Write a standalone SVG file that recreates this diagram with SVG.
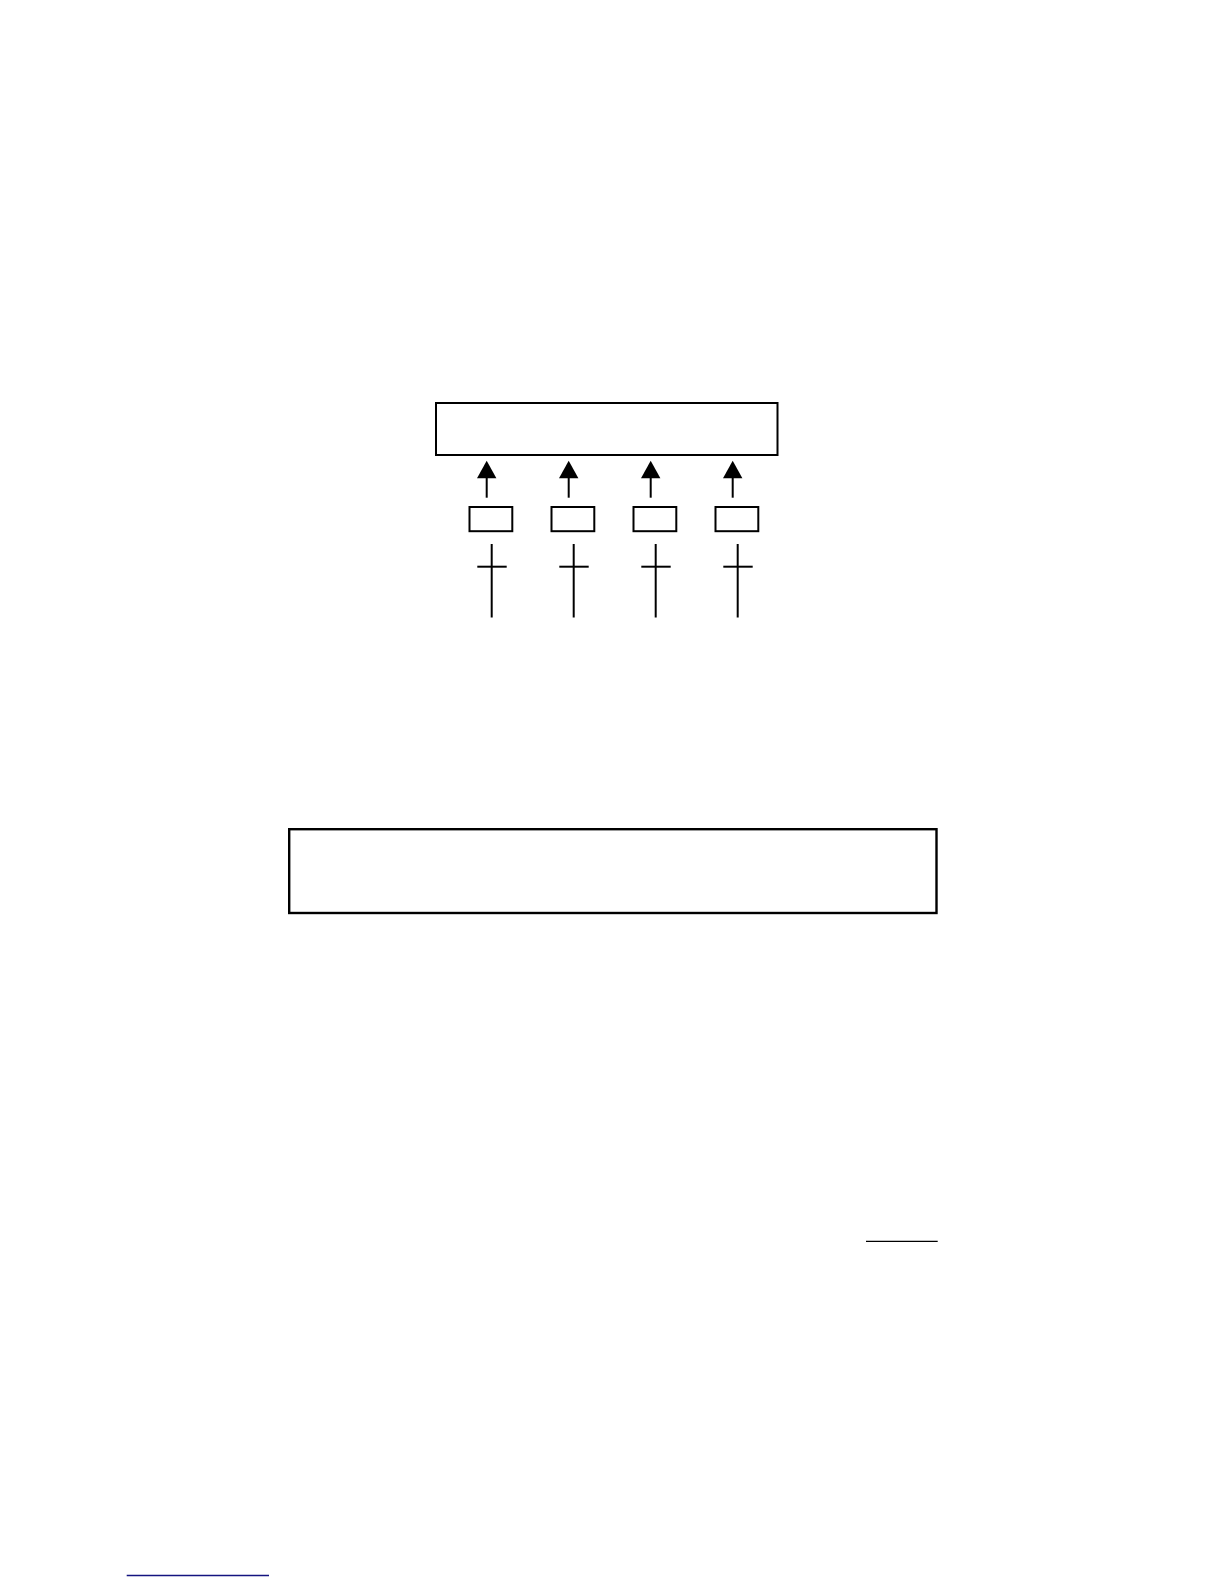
<svg xmlns="http://www.w3.org/2000/svg" width="1224" height="1584" viewBox="0 0 1224 1584">
<style>
.box{fill:#fff;stroke:#000;stroke-width:2}
.ln{stroke:#000;stroke-width:2;fill:none}
.head{fill:#000}
</style>
<rect width="1224" height="1584" fill="#fff"/>
<g id="top-box"><rect class="box" x="436" y="403" width="341.5" height="52"/></g>
<g id="small-box-1"><rect class="box" x="469.5" y="507" width="42.8" height="24.2"/></g>
<g id="small-box-2"><rect class="box" x="551.5" y="507" width="42.8" height="24.2"/></g>
<g id="small-box-3"><rect class="box" x="633.5" y="507" width="42.8" height="24.2"/></g>
<g id="small-box-4"><rect class="box" x="715.5" y="507" width="42.8" height="24.2"/></g>
<g id="bottom-box"><rect class="box" x="289.2" y="829.2" width="647.3" height="83.8" style="stroke-width:2.4"/></g>
<g id="connectors">
<g>
<line class="ln" x1="486.7" y1="478" x2="486.7" y2="497.7"/>
<polygon class="head" points="486.7,460.7 477,478.3 496.4,478.3"/>
<line class="ln" x1="568.7" y1="478" x2="568.7" y2="497.7"/>
<polygon class="head" points="568.7,460.7 559,478.3 578.4,478.3"/>
<line class="ln" x1="650.7" y1="478" x2="650.7" y2="497.7"/>
<polygon class="head" points="650.7,460.7 641,478.3 660.4,478.3"/>
<line class="ln" x1="732.7" y1="478" x2="732.7" y2="497.7"/>
<polygon class="head" points="732.7,460.7 723,478.3 742.4,478.3"/>
</g>
<g>
<line class="ln" x1="491.7" y1="544" x2="491.7" y2="617.5"/>
<line class="ln" x1="477.3" y1="566.7" x2="506.7" y2="566.7"/>
<line class="ln" x1="573.7" y1="544" x2="573.7" y2="617.5"/>
<line class="ln" x1="559.3" y1="566.7" x2="588.7" y2="566.7"/>
<line class="ln" x1="655.7" y1="544" x2="655.7" y2="617.5"/>
<line class="ln" x1="641.3" y1="566.7" x2="670.7" y2="566.7"/>
<line class="ln" x1="737.7" y1="544" x2="737.7" y2="617.5"/>
<line class="ln" x1="723.3" y1="566.7" x2="752.7" y2="566.7"/>
</g>
</g>
<line x1="866" y1="1241.3" x2="937.7" y2="1241.3" stroke="#000" stroke-width="1.3"/>
<line x1="126.7" y1="1575.5" x2="269" y2="1575.5" stroke="#141480" stroke-width="1.4"/>
</svg>
